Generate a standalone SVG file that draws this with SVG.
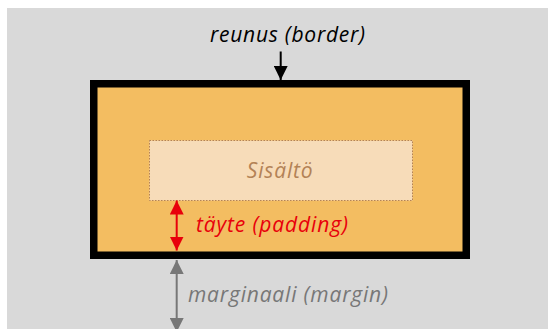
<svg xmlns="http://www.w3.org/2000/svg" width="548" height="329" viewBox="0 0 548 329">
<defs>
<style>
.lbl{font-family:"Open Sans","Liberation Sans",sans-serif;font-style:italic;font-size:21px}
</style>
<marker id="hBlack" viewBox="0 0 10 10" refX="10" refY="5" markerWidth="14" markerHeight="14" markerUnits="userSpaceOnUse" orient="auto">
<path d="M0,0 L10,5 L0,10 Z" fill="#000"/>
</marker>
<marker id="hRed" viewBox="0 0 10 10" refX="10" refY="5" markerUnits="userSpaceOnUse" markerWidth="14" markerHeight="14" orient="auto-start-reverse">
<path d="M0,0 L10,5 L0,10 Z" fill="#e8000b"/>
</marker>
<marker id="hGray" viewBox="0 0 10 10" refX="10" refY="5" markerUnits="userSpaceOnUse" markerWidth="14" markerHeight="14" orient="auto-start-reverse">
<path d="M0,0 L10,5 L0,10 Z" fill="#777"/>
</marker>
</defs>
<rect x="0" y="0" width="548" height="329" fill="#fff"/>
<rect x="7" y="8" width="541" height="321" fill="#d9d9d9"/>
<g id="box">
<rect x="93.75" y="83.75" width="372.5" height="171.5" fill="#f3bd61" stroke="#000" stroke-width="7.5"/>
</g>
<g id="content">
<rect x="149.5" y="140.5" width="263" height="60" fill="#f7dcb9" stroke="#b38256" stroke-width="1" stroke-dasharray="1.5,1.5"/>
<text x="246.7" y="178" class="lbl" fill="#b38256" textLength="66" lengthAdjust="spacing">Sisältö</text>
</g>
<g id="connectors">
<line x1="280.7" y1="51.5" x2="280.7" y2="80" stroke="#000" stroke-width="2" marker-end="url(#hBlack)"/>
<line x1="176.7" y1="200.5" x2="176.7" y2="250.5" stroke="#e8000b" stroke-width="2" marker-start="url(#hRed)" marker-end="url(#hRed)"/>
<line x1="176.7" y1="260" x2="176.7" y2="332" stroke="#777" stroke-width="2" marker-start="url(#hGray)" marker-end="url(#hGray)"/>
</g>
<g id="label-border">
<text x="210" y="42.3" class="lbl" fill="#000" textLength="155" lengthAdjust="spacing">reunus (border)</text>
</g>
<g id="label-padding">
<text x="196" y="231.7" class="lbl" fill="#e8000b" textLength="152" lengthAdjust="spacing">täyte (padding)</text>
</g>
<g id="label-margin">
<text x="188" y="301.7" class="lbl" fill="#777" textLength="200" lengthAdjust="spacing">marginaali (margin)</text>
</g>
</svg>
